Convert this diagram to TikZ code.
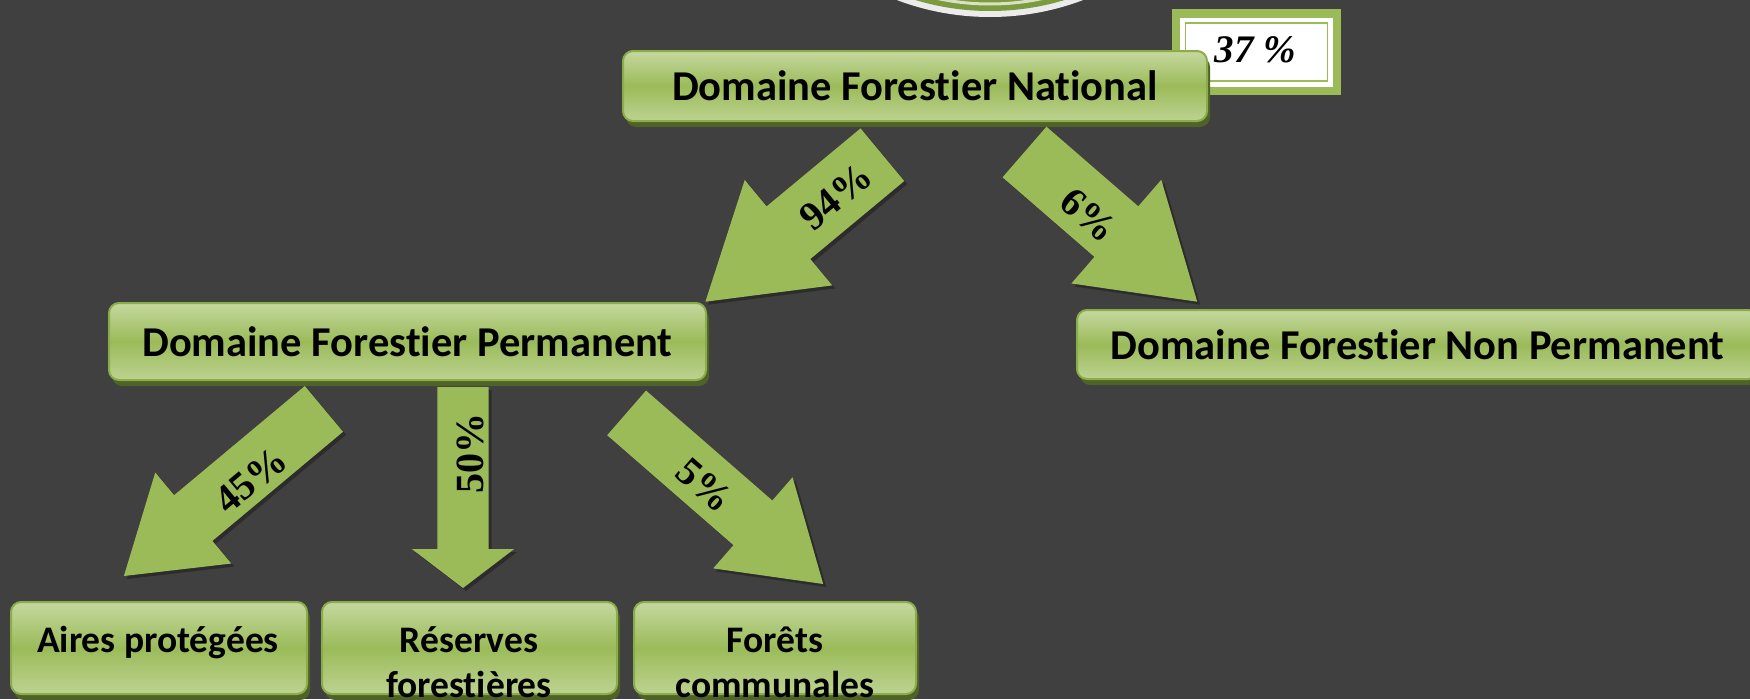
\documentclass[tikz,border=0pt]{standalone}
\usepackage{fontspec}
\newfontfamily\boxfont{Carlito}[Ligatures={NoCommon,NoContextual}]
\newfontfamily\pctfont{Liberation Serif}
\usetikzlibrary{calc}

\definecolor{bg}{HTML}{404040}
\definecolor{leaf}{HTML}{9BBB59}
\definecolor{leaflight}{HTML}{C5D89F}
\definecolor{leafedge}{HTML}{8AAD4A}
\definecolor{leafshadow}{HTML}{4F6228}
\definecolor{olive}{HTML}{7C9A3E}

\tikzset{
  box/.style={rectangle, rounded corners=10pt, draw=leafedge, line width=2pt,
    top color=leaflight, bottom color=leaflight!80!leaf, middle color=leaf,
    preaction={fill=leafshadow, transform canvas={xshift=3pt,yshift=-6pt}},
    inner sep=0pt},
  bigtext/.style={font=\boxfont\bfseries\fontsize{42.5}{45}\selectfont},
  smalltext/.style={font=\boxfont\bfseries\fontsize{37.5}{45}\selectfont, align=center, anchor=base},
  pcttext/.style={font=\pctfont\bfseries\fontsize{40}{42}\selectfont, inner sep=0pt},
  blockfill/.style={fill=leaf, preaction={fill=black, opacity=.3, transform canvas={xshift=3pt,yshift=-3pt}}}
}

% block arrow: back centre, tip, half shaft width, half head width, head length
\newcommand\blockarrow[5]{%
  \coordinate (#1j) at ($(#2)!#5!(#1)$);
  \path[blockfill] ($(#1)!#3!90:(#2)$) -- ($(#1j)!#3!90:(#2)$) -- ($(#1j)!#4!90:(#2)$)
    -- (#2) -- ($(#1j)!#4!-90:(#2)$) -- ($(#1j)!#3!-90:(#2)$) -- ($(#1)!#3!-90:(#2)$) -- cycle;}

\begin{document}
\begin{tikzpicture}[x=1pt,y=-1pt]
  \useasboundingbox (0,0) rectangle (1750,699);
  \clip (0,0) rectangle (1750,699);
  \fill[bg] (0,0) rectangle (1750,699);

  % emblem at the top edge
  \fill[white!92!black] (990,-246) circle (263);
  \fill[olive] (990,-246) circle (257);
  \draw[white!70!olive, line width=3pt] (990,-246) circle (250);

  % share badge
  \node[fill=leaf, minimum width=169pt, minimum height=86pt, inner sep=0pt] (badge) at (1256.5,52) {};
  \node[fill=white, minimum width=153pt, minimum height=69pt, inner sep=0pt] (badgein) at (badge.center) {};
  \node[draw=leaf, line width=1.5pt, minimum width=142pt, minimum height=58pt, inner sep=0pt] (badgeline) at (badge.center) {};
  \node[font=\pctfont\bfseries\itshape\fontsize{39}{42}\selectfont, inner sep=0pt] (badgetxt) at (1255.5,50) {37 \%};

  % main nodes
  \node[box, bigtext, minimum width=584pt, minimum height=70pt] (dfn) at (915,86) {Domaine Forestier National};
  \node[box, bigtext, minimum width=597pt, minimum height=77pt] (dfp) at (407.5,341.5) {Domaine Forestier Permanent};
  \node[box, bigtext, minimum width=681pt, minimum height=69pt] (dfnp) at (1417.5,344.5) {Domaine Forestier Non Permanent};

  \node[box, minimum width=296pt, minimum height=92pt] (aires) at (159,648) {};
  \node[box, minimum width=295pt, minimum height=92pt] (reserves) at (469.5,648) {};
  \node[box, minimum width=282pt, minimum height=92pt] (forets) at (775,648) {};
  \node[smalltext] (airestxt) at (158,652) {Aires protégées};
  \node[smalltext] (reservestxt) at (469,697) {Réserves\\forestières};
  \node[smalltext] (foretstxt) at (775,697) {Forêts\\communales};

  % block arrows
  \coordinate (a94) at (882.4,154.7); \coordinate (t94) at (705.4,301.7);
  \coordinate (a6) at (1024.5,152);   \coordinate (t6) at (1197.2,301.7);
  \coordinate (a45) at (323.9,408.9); \coordinate (t45) at (123.9,576);
  \coordinate (a50) at (463,387);     \coordinate (t50) at (463,588);
  \coordinate (a5) at (626.6,412.9);  \coordinate (t5) at (823.2,584);
  \blockarrow{a94}{t94}{34.2pt}{68.5pt}{108pt}
  \blockarrow{a6}{t6}{33.5pt}{68.6pt}{107pt}
  \blockarrow{a45}{t45}{29.8pt}{59.3pt}{90.4pt}
  \blockarrow{a50}{t50}{25.6pt}{51.2pt}{39pt}
  \blockarrow{a5}{t5}{29.6pt}{60.4pt}{93.2pt}

  \node[pcttext, rotate=39.7] (l94) at (835.9,196.7) {94\%};
  \node[pcttext, rotate=-40.9] (l6) at (1088.4,215) {6\%};
  \node[pcttext, rotate=39.9] (l45) at (250.7,480) {45\%};
  \node[pcttext, rotate=90] (l50) at (470.7,453.3) {50\%};
  \node[pcttext, rotate=-41] (l5) at (705,485) {5\%};
\end{tikzpicture}
\end{document}
